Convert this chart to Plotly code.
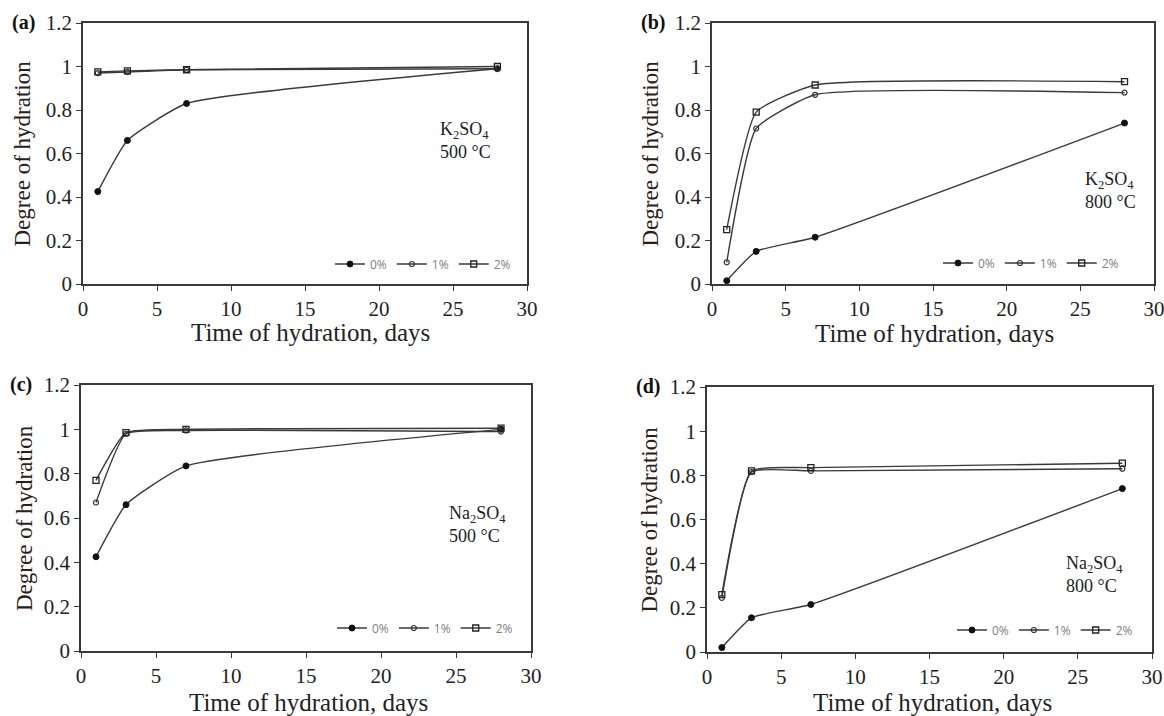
import plotly.graph_objects as go

days = [1, 3, 7, 28]
series_names = ["0%", "1%", "2%"]

a_0 = [0.425, 0.66, 0.83, 0.99]
a_1 = [0.97, 0.975, 0.985, 0.99]
a_2 = [0.975, 0.98, 0.985, 1.0]

b_0 = [0.015, 0.15, 0.215, 0.74]
b_1 = [0.10, 0.715, 0.87, 0.88]
b_2 = [0.25, 0.79, 0.915, 0.93]

c_0 = [0.425, 0.66, 0.835, 1.0]
c_1 = [0.67, 0.98, 0.995, 0.99]
c_2 = [0.77, 0.985, 1.0, 1.005]

d_0 = [0.02, 0.155, 0.215, 0.74]
d_1 = [0.245, 0.815, 0.82, 0.83]
d_2 = [0.26, 0.82, 0.835, 0.855]

panel_labels = ["(a)", "(b)", "(c)", "(d)"]
salt_labels = ["K<sub>2</sub>SO<sub>4</sub><br>500 °C", "K<sub>2</sub>SO<sub>4</sub><br>800 °C",
               "Na<sub>2</sub>SO<sub>4</sub><br>500 °C", "Na<sub>2</sub>SO<sub>4</sub><br>800 °C"]
salt_pos = [(24.0, 0.66), (25.2, 0.43), (24.4, 0.57), (24.1, 0.35)]
x_title = "Time of hydration, days"
y_title = "Degree of hydration"
x_ticks = [0, 5, 10, 15, 20, 25, 30]
y_ticks = [0, 0.2, 0.4, 0.6, 0.8, 1.0, 1.2]
y_tick_text = ["0", "0.2", "0.4", "0.6", "0.8", "1", "1.2"]

data = [(a_0, a_1, a_2), (b_0, b_1, b_2), (c_0, c_1, c_2), (d_0, d_1, d_2)]

W, H = 1164, 716
# plot areas in pixels: left, right, top, bottom
boxes = [(83, 527, 23, 284), (712, 1154, 23, 284), (81, 531, 385, 651), (707, 1152, 387, 652)]
legend_px = [(330, 264), (938, 263), (332, 628), (952, 630)]
xtitle_px = [(310, 332), (934, 333), (308, 702), (932, 702)]
ytitle_px = [22, 650, 24, 649]

markers = [
    dict(symbol="circle", size=6, color="#111111", line=dict(color="#111111", width=1)),
    dict(symbol="circle-open", size=5, color="#333333", line=dict(width=1.2)),
    dict(symbol="square-open", size=6, color="#222222", line=dict(width=1.3)),
]

fig = go.Figure()
SERIF = "Liberation Serif"
SANS = "Open Sans"
layout = dict(width=W, height=H, margin=dict(l=0, r=0, t=0, b=0, autoexpand=False),
              paper_bgcolor="white", plot_bgcolor="white", showlegend=True,
              font=dict(family=SERIF, color="#222222"))
annotations = []
for i, (box, series) in enumerate(zip(boxes, data)):
    l, r, t, b = box
    xa = "xaxis" if i == 0 else f"xaxis{i+1}"
    ya = "yaxis" if i == 0 else f"yaxis{i+1}"
    xref = "x" if i == 0 else f"x{i+1}"
    yref = "y" if i == 0 else f"y{i+1}"
    leg = "legend" if i == 0 else f"legend{i+1}"
    for s, (name, vals) in enumerate(zip(series_names, series)):
        fig.add_trace(go.Scatter(
            x=days, y=vals, name=name, mode="lines+markers",
            line=dict(color="#3a3a3a", width=1.4, shape="spline", smoothing=0.45),
            marker=markers[s], xaxis=xref, yaxis=yref, legend=leg, cliponaxis=False))
    axcommon = dict(showline=True, linecolor="#3a3a3a", linewidth=1.5, mirror=True,
                    ticks="outside", ticklen=5, tickcolor="#3a3a3a", tickwidth=1.3,
                    showgrid=False, zeroline=False, automargin=False,
                    ticklabeloverflow="allow",
                    tickfont=dict(family=SERIF, size=21, color="#222222"))
    layout[xa] = dict(axcommon, domain=[l / W, r / W], range=[0, 30], tickvals=x_ticks,
                      anchor=yref)
    layout[ya] = dict(axcommon, domain=[1 - b / H, 1 - t / H], range=[0, 1.2],
                      tickvals=y_ticks, ticktext=y_tick_text, anchor=xref)
    lx, ly = legend_px[i]
    layout[leg] = dict(x=lx / W, y=1 - ly / H, xanchor="left", yanchor="middle",
                       orientation="h", bgcolor="rgba(0,0,0,0)",
                       font=dict(family=SANS, size=12, color="#808080"),
                       itemwidth=30, tracegroupgap=0, traceorder="normal")
    sx, sy = salt_pos[i]
    annotations.append(dict(x=sx, y=sy, xref=xref, yref=yref, text=salt_labels[i],
                            showarrow=False, xanchor="left", yanchor="middle", align="left",
                            font=dict(family=SERIF, size=18, color="#222222")))
    annotations.append(dict(x=(l - 73) / W, y=1 - (t - 1) / H, xref="paper", yref="paper",
                            text="<b>" + panel_labels[i] + "</b>", showarrow=False,
                            xanchor="left", yanchor="middle",
                            font=dict(family=SERIF, size=20, color="#111111")))
    tx, ty = xtitle_px[i]
    annotations.append(dict(x=tx / W, y=1 - ty / H, xref="paper", yref="paper",
                            text=x_title, showarrow=False, xanchor="center", yanchor="middle",
                            font=dict(family=SERIF, size=25, color="#222222")))
    annotations.append(dict(x=ytitle_px[i] / W, y=1 - ((t + b) / 2) / H, xref="paper", yref="paper",
                            text=y_title, showarrow=False, xanchor="center", yanchor="middle",
                            textangle=-90,
                            font=dict(family=SERIF, size=23, color="#2a2018")))
layout["annotations"] = annotations
fig.update_layout(**layout)
fig.write_html("out.html")
